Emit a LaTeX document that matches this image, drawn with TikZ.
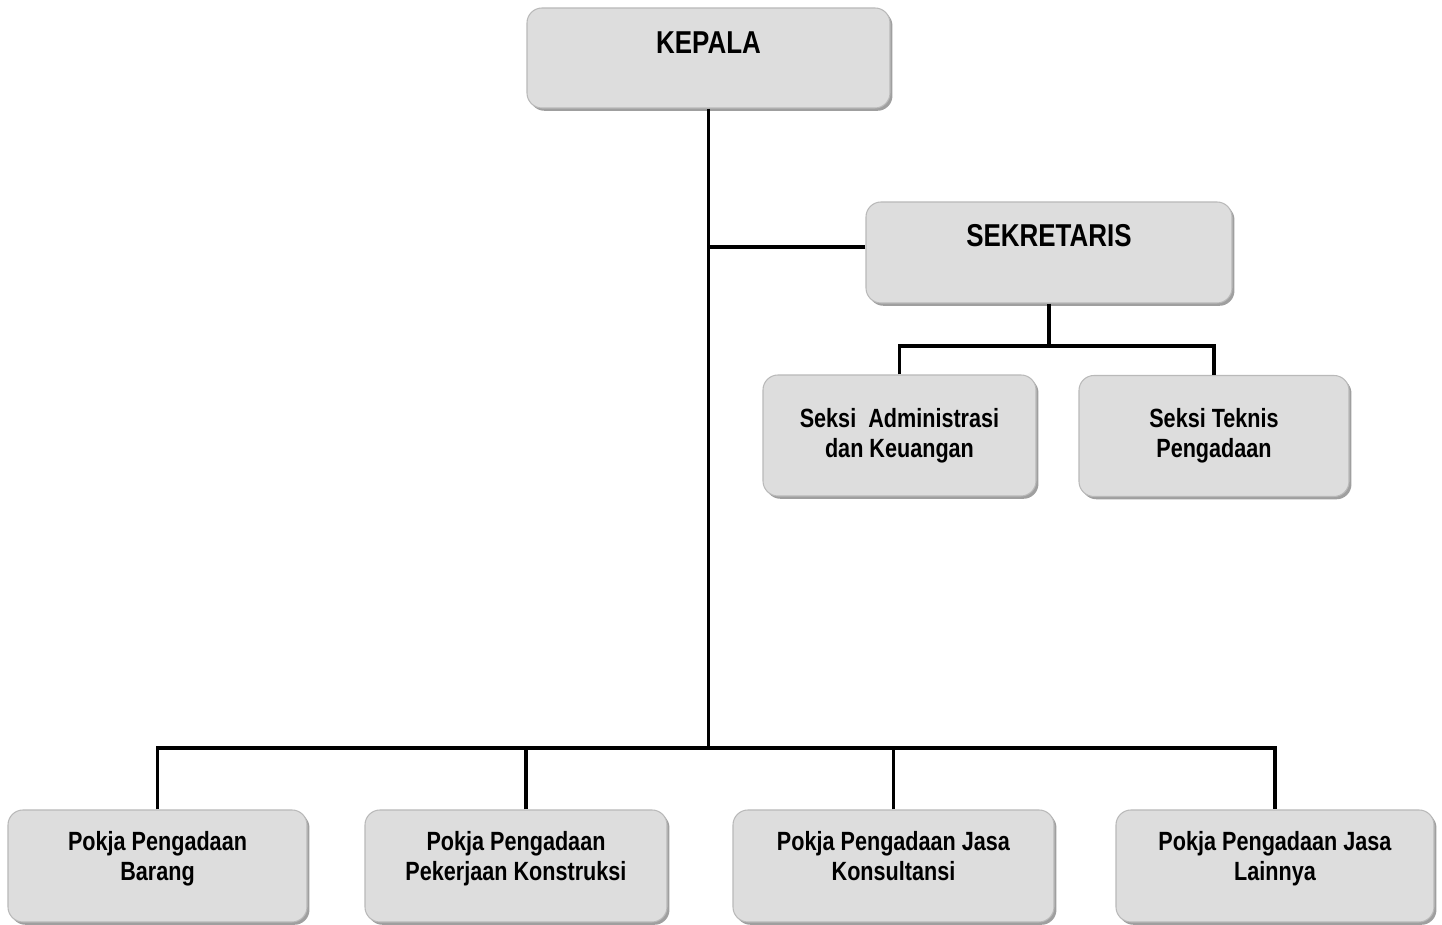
\documentclass[tikz,border=0pt]{standalone}
\usepackage{fontspec}
\setmainfont{Liberation Sans}[FakeStretch=0.82]
\usepackage{tikz}
\usetikzlibrary{positioning,shadows,calc}

\begin{document}
\begin{tikzpicture}[
		every node/.style={font=\bfseries\fontsize{7.5}{8.6}\selectfont},
		% Stijlen
		unit/.style={fill=gray!27, draw=gray!55, line width=0.3pt, rounded corners=1.5mm,
			align=center, inner sep=0pt,
			drop shadow={shadow xshift=0.7pt, shadow yshift=-0.8pt, fill=gray!75, opacity=1}},
		pimpinan/.style={unit, font=\bfseries\fontsize{9}{10}\selectfont},
		pokja/.style={unit, minimum height=1.12cm, text depth=0.2cm},
		seksi/.style={unit, minimum height=1.21cm},
		link/.style={line width=0.95pt, black}
	]

	% --- Parameters ---
	\def\busY{-7.48}    % hoogte onderste verdeellijn
	\def\subY{-3.46}    % hoogte verdeellijn seksi

	\useasboundingbox (0,0) rectangle (14.42,-9.25);

	% --- 1. PIMPINAN ---
	\node[pimpinan, minimum width=3.63cm, minimum height=1.0cm, text depth=0.3cm] (kepala) at (7.085,-0.58) {KEPALA};
	\node[pimpinan, minimum width=3.66cm, minimum height=1.01cm, text depth=0.34cm] (sekretaris) at (10.49,-2.525) {SEKRETARIS};

	% --- 2. SEKSI ---
	\node[seksi, minimum width=2.73cm] (admin) at (8.995,-4.355) {Seksi\ \ Administrasi\\dan Keuangan};
	\node[seksi, minimum width=2.70cm] (teknis) at (12.14,-4.36) {Seksi Teknis\\Pengadaan};

	% --- 3. POKJA ---
	\node[pokja, minimum width=2.99cm] (barang) at (1.575,-8.66) {Pokja Pengadaan\\Barang};
	\node[pokja, minimum width=3.02cm] (konstruksi) at (5.16,-8.66) {Pokja Pengadaan\\Pekerjaan Konstruksi};
	\node[pokja, minimum width=3.21cm] (konsultansi) at (8.935,-8.66) {Pokja Pengadaan Jasa\\Konsultansi};
	\node[pokja, minimum width=3.18cm] (lainnya) at (12.75,-8.66) {Pokja Pengadaan Jasa\\Lainnya};

	% --- 4. LIJNEN ---
	\coordinate (bus) at (7.07,\busY);
	\coordinate (sub) at (10.54,\subY);
	\draw[link] (kepala.south) -- (kepala.south |- bus);
	\draw[link] ([yshift=0.055cm]sekretaris.west) -- ([yshift=0.055cm]sekretaris.west -| kepala.south);
	\draw[link] (barang.north) -- (barang.north |- bus) -- (lainnya.north |- bus) -- (lainnya.north);
	\draw[link] ([xshift=0.1cm]konstruksi.north) -- ([xshift=0.1cm]konstruksi.north |- bus);
	\draw[link] (konsultansi.north) -- (konsultansi.north |- bus);

	\draw[link] (sekretaris.south) -- (sekretaris.south |- sub);
	\draw[link] (admin.north) -- (admin.north |- sub) -- (teknis.north |- sub) -- (teknis.north);

\end{tikzpicture}
\end{document}
